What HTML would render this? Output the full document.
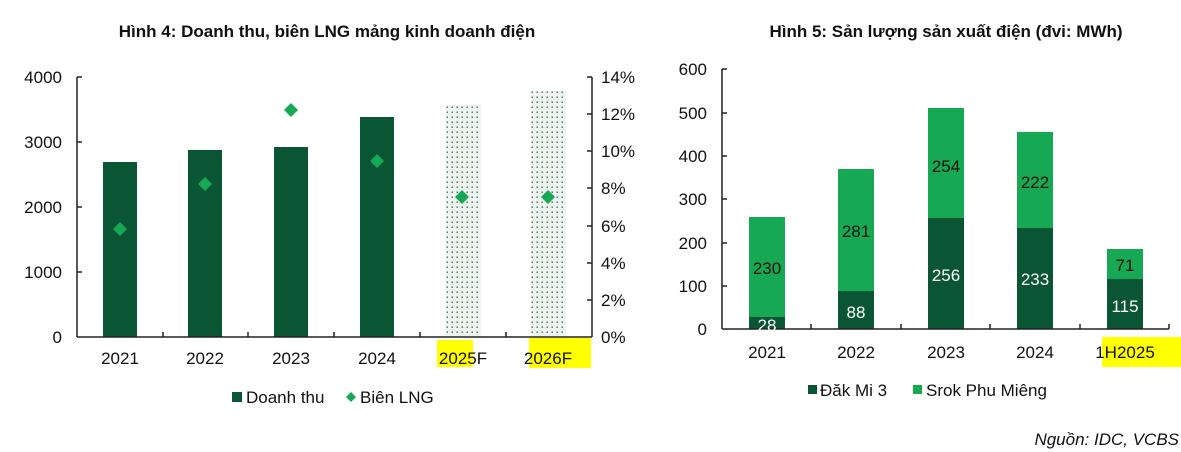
<!DOCTYPE html>
<html><head><meta charset="utf-8"><style>
html,body{margin:0;padding:0;background:#fff;}
svg{display:block;font-family:"Liberation Sans",Arial,sans-serif;}
</style></head><body>
<svg width="1181" height="452" viewBox="0 0 1181 452" xmlns="http://www.w3.org/2000/svg">
<defs>
<pattern id="dots" width="5" height="5" patternUnits="userSpaceOnUse">
<rect width="5" height="5" fill="#eef5f1"/>
<rect x="1.5" y="1.5" width="1.4" height="1.4" fill="#3d6b57"/>
</pattern>
</defs>
<text x="327" y="37" font-size="17" font-weight="bold" text-anchor="middle" fill="#111">Hình 4: Doanh thu, biên LNG mảng kinh doanh điện</text>
<text x="946" y="37" font-size="17" font-weight="bold" text-anchor="middle" fill="#111">Hình 5: Sản lượng sản xuất điện (đvi: MWh)</text>

<g fill="#0a5533">
<rect x="103" y="162" width="34" height="175"/>
<rect x="188" y="150" width="34" height="187"/>
<rect x="274" y="147" width="34" height="190"/>
<rect x="360" y="117" width="34" height="220"/>
</g>
<rect x="446" y="105" width="35" height="232" fill="url(#dots)"/>
<rect x="531" y="91" width="35" height="246" fill="url(#dots)"/>
<rect x="437" y="340" width="36" height="27" fill="#ffff00"/>
<rect x="529" y="338" width="62" height="30" fill="#ffff00"/>
<g stroke="#222" stroke-width="1.5" fill="none">
<line x1="77" y1="77" x2="77" y2="337"/>
<line x1="77" y1="337" x2="592" y2="337"/>
<line x1="592" y1="77" x2="592" y2="337"/>
<path d="M77 77h5M77 142h5M77 207h5M77 272h5"/>
<path d="M592 77h-5M592 114h-5M592 151h-5M592 188h-5M592 226h-5M592 263h-5M592 300h-5"/>
<path d="M163 337v-5M248 337v-5M334 337v-5M420 337v-5M506 337v-5"/>
</g>
<g font-size="17" fill="#111" text-anchor="end">
<text x="62" y="83">4000</text><text x="62" y="148">3000</text><text x="62" y="213">2000</text><text x="62" y="278">1000</text><text x="62" y="343">0</text>
</g>
<g font-size="17" fill="#111">
<text x="601" y="83">14%</text><text x="601" y="120">12%</text><text x="601" y="157">10%</text><text x="601" y="194">8%</text><text x="601" y="232">6%</text><text x="601" y="269">4%</text><text x="601" y="306">2%</text><text x="601" y="343">0%</text>
</g>
<g font-size="17" fill="#111" text-anchor="middle">
<text x="120" y="364">2021</text><text x="205" y="364">2022</text><text x="291" y="364">2023</text><text x="377" y="364">2024</text><text x="463" y="364">2025F</text><text x="548" y="364">2026F</text>
</g>
<g fill="#16a852">
<path d="M120 222l7 7-7 7-7-7z"/>
<path d="M205 177l7 7-7 7-7-7z"/>
<path d="M291 103l7 7-7 7-7-7z"/>
<path d="M377 154l7 7-7 7-7-7z"/>
<path d="M462 190l7 7-7 7-7-7z"/>
<path d="M548 190l7 7-7 7-7-7z"/>
</g>
<rect x="232" y="392" width="10" height="10" fill="#0a5533"/>
<text x="246" y="403" font-size="17" fill="#111">Doanh thu</text>
<path d="M351 392l5 5-5 5-5-5z" fill="#16a852"/>
<text x="360" y="403" font-size="17" fill="#111">Biên LNG</text>

<rect x="1102" y="337" width="80" height="30" fill="#ffff00"/>
<g fill="#16a852">
<rect x="749" y="217" width="36" height="100"/>
<rect x="838" y="169" width="36" height="122"/>
<rect x="928" y="108" width="36" height="110"/>
<rect x="1017" y="132" width="36" height="96"/>
<rect x="1107" y="249" width="36" height="30"/>
</g>
<g fill="#0a5533">
<rect x="749" y="317" width="36" height="12"/>
<rect x="838" y="291" width="36" height="38"/>
<rect x="928" y="218" width="36" height="111"/>
<rect x="1017" y="228" width="36" height="101"/>
<rect x="1107" y="279" width="36" height="50"/>
</g>
<g stroke="#222" stroke-width="1.5" fill="none">
<line x1="722" y1="69" x2="722" y2="329"/>
<line x1="722" y1="329" x2="1169" y2="329"/>
<path d="M722 69h5M722 113h5M722 156h5M722 199h5M722 243h5M722 286h5"/>
<path d="M811 329v-5M901 329v-5M990 329v-5M1080 329v-5M1169 329v-5"/>
</g>
<g font-size="17" fill="#111" text-anchor="end">
<text x="707" y="75">600</text><text x="707" y="119">500</text><text x="707" y="162">400</text><text x="707" y="205">300</text><text x="707" y="249">200</text><text x="707" y="292">100</text><text x="707" y="335">0</text>
</g>
<g font-size="17" fill="#111" text-anchor="middle">
<text x="767" y="358">2021</text><text x="856" y="358">2022</text><text x="946" y="358">2023</text><text x="1035" y="358">2024</text><text x="1125" y="358">1H2025</text>
</g>
<g font-size="17" text-anchor="middle">
<text x="767" y="274" fill="#111">230</text>
<text x="767" y="331" fill="#fff">28</text>
<text x="856" y="237" fill="#111">281</text>
<text x="856" y="318" fill="#fff">88</text>
<text x="946" y="172" fill="#111">254</text>
<text x="946" y="281" fill="#fff">256</text>
<text x="1035" y="188" fill="#111">222</text>
<text x="1035" y="285" fill="#fff">233</text>
<text x="1125" y="271" fill="#111">71</text>
<text x="1125" y="312" fill="#fff">115</text>
</g>
<rect x="808" y="385" width="9" height="9" fill="#0a5533"/>
<text x="820" y="396" font-size="17" fill="#111">Đăk Mi 3</text>
<rect x="913" y="385" width="9" height="9" fill="#16a852"/>
<text x="926" y="396" font-size="17" fill="#111">Srok Phu Miêng</text>
<text x="1179" y="445" font-size="17" font-style="italic" text-anchor="end" fill="#111">Nguồn: IDC, VCBS</text>
</svg>
</body></html>
